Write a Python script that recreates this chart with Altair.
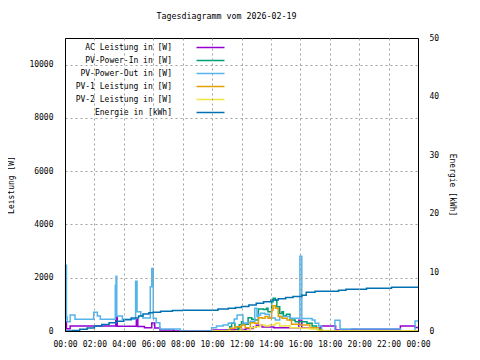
import altair as alt
import pandas as pd

# ---- data (hours of day, value) ----
series_names = ["AC Leistung in [W]", "PV-Power-In in [W]", "PV-Power-Out in [W]",
                "PV-1 Leistung in [W]", "PV-2 Leistung in [W]", "Energie in [kWh]"]
series_colors = ["#9400d3", "#009e73", "#56b4e9", "#e69f00", "#f0e442", "#0072b2"]

ac_t = [0, 0.1, 0.35, 3.45, 3.55, 4.85, 4.95, 5.4, 5.9, 6.1, 6.45, 7.4, 10.0, 11.5, 12.3,
        12.8, 13.0, 13.4, 14.2, 15.9, 16.1, 17.4, 18.4, 19.5, 22.8, 23.8, 24]
ac_v = [350, 80, 190, 520, 175, 420, 170, 120, 300, 110, 40, 0, 40, 60, 90,
        150, 220, 150, 120, 400, 110, 190, 40, 70, 190, 135, 135]

pvin_t = [10.0, 11.0, 11.2, 11.33, 11.55, 11.75, 11.85, 12.0, 12.1, 12.45, 12.7, 12.9, 13.15,
          13.5, 13.7, 13.8, 14.05, 14.15, 14.3, 14.4, 14.6, 14.75, 14.85, 15.05, 15.3, 15.65,
          16.0, 16.45, 16.8, 17.1, 17.35, 24]
pvin_v = [0, 40, 160, 290, 160, 40, 230, 350, 250, 500, 440, 410, 825,
          810, 850, 720, 1100, 1225, 1160, 910, 660, 720, 560, 625, 410, 350,
          350, 290, 190, 75, 0, 0]

pvout_t = [0, 0.04, 0.1, 0.15, 0.35, 0.68, 1.95, 2.2, 2.4, 3.42, 3.47, 3.52, 3.9, 4.8, 4.9,
           5.15, 5.3, 5.8, 5.9, 6.0, 6.2, 6.45, 7.85, 9.97, 10.3, 10.75, 11.1, 11.2, 11.5,
           11.7, 12.1, 12.6, 12.9, 13.05, 13.15, 13.3, 13.6, 13.9, 14.3, 14.6, 15.3, 15.97,
           16.1, 16.8, 17.0, 17.25, 17.45, 18.35, 18.7, 22.8, 23.8, 24]
pvout_v = [440, 2470, 530, 350, 600, 440, 700, 560, 440, 1720, 2060, 560, 440, 1870, 720,
           560, 490, 1660, 2350, 475, 310, 75, 0, 125, 190, 225, 290, 300, 450,
           600, 300, 370, 850, 540, 600, 670, 630, 490, 410, 540, 475, 2810,
           470, 410, 290, 190, 0, 400, 75, 0, 375, 375]

pv1_t = [10.0, 11.1, 11.2, 11.55, 11.9, 12.0, 12.25, 12.6, 12.9, 13.15, 13.4, 13.6, 13.8,
         14.05, 14.15, 14.3, 14.5, 14.75, 15.1, 15.4, 16.0, 16.65, 17.2, 17.5, 24]
pv1_v = [0, 30, 100, 160, 125, 225, 125, 310, 290, 500, 475, 540, 475,
         790, 950, 850, 540, 475, 410, 250, 225, 125, 40, 0, 0]

pv2_t = [10.0, 11.9, 12.1, 12.6, 12.9, 13.25, 13.6, 13.9, 14.3, 14.6, 14.95, 15.3, 16.0,
         16.65, 17.2, 24]
pv2_v = [0, 40, 0, 125, 160, 225, 190, 225, 290, 190, 200, 125, 100,
         75, 0, 0]

energy_t = [0, 0.5, 1, 1.5, 2, 2.5, 3, 3.5, 4, 4.5, 5, 5.3, 5.7, 6, 6.5, 7.3, 8, 10.4,
            11.1, 11.6, 12, 12.5, 13, 13.5, 14, 14.5, 15, 15.5, 16.1, 16.4, 17, 18.6,
            19.1, 20.5, 22.2, 24]
energy_v = [0, 0.1, 0.3, 0.5, 0.85, 1.1, 1.4, 1.65, 1.9, 2.2, 2.55, 2.9, 3.1, 3.2, 3.35,
            3.5, 3.55, 3.75, 3.9, 4.0, 4.2, 4.45, 4.75, 5.0, 5.3, 5.5, 5.7, 5.9, 6.1,
            6.6, 6.8, 6.97, 7.14, 7.3, 7.45, 7.45]

x_ticks = list(range(0, 25, 2))
left_ticks = [0, 2000, 4000, 6000, 8000, 10000]
right_ticks = [0, 10, 20, 30, 40, 50]

rows = []
for name, ts, vs in zip(series_names,
                        [ac_t, pvin_t, pvout_t, pv1_t, pv2_t, energy_t],
                        [ac_v, pvin_v, pvout_v, pv1_v, pv2_v, energy_v]):
    for t, v in zip(ts, vs):
        rows.append({"series": name, "t": t, "v": v})
df = pd.DataFrame(rows)

FONT = "DejaVu Sans Mono"
grid_style = dict(grid=True, gridDash=[2, 3], gridColor="#a0a0a0", gridWidth=1)

legend = alt.Legend(title=None, orient="none", legendX=140, legendY=4,
                    symbolType="M-3,0H3", symbolSize=87, symbolStrokeWidth=1.5,
                    symbolFillColor="transparent",
                    labelAlign="right", labelOffset={"expr": "-44"}, labelFont=FONT,
                    labelFontSize=8, labelColor="black", rowPadding=3,
                    padding=0, labelLimit=300)

color = alt.Color("series:N", scale=alt.Scale(domain=series_names, range=series_colors),
                  legend=legend)

x_enc = alt.X("t:Q", scale=alt.Scale(domain=[0, 24], nice=False),
              axis=alt.Axis(values=x_ticks, title=None, ticks=False,
                            labelExpr="(datum.value % 24 < 10 ? '0' : '') + (datum.value % 24) + ':00'",
                            labelFont=FONT, labelFontSize=8, labelColor="black",
                            labelPadding=9, domainColor="black", zindex=1,
                            labelFlush=False, labelOverlap=False, **grid_style))

base = alt.Chart(df)

left = base.transform_filter(alt.datum.series != "Energie in [kWh]").mark_line(
    interpolate="step-after", strokeWidth=1.5).encode(
    x=x_enc,
    y=alt.Y("v:Q", scale=alt.Scale(domain=[0, 11000], nice=False),
            axis=alt.Axis(values=left_ticks, title="Leistung [W]", ticks=False, format="d",
                          labelFont=FONT, labelFontSize=8, labelColor="black",
                          labelPadding=12, titleFont=FONT, titleFontSize=8,
                          titleFontWeight="normal", titleColor="black", titlePadding=13,
                          domainColor="black", zindex=1, **grid_style)),
    color=color,
)

right = base.transform_filter(alt.datum.series == "Energie in [kWh]").mark_line(
    interpolate="step-after", strokeWidth=1.5).encode(
    x=x_enc,
    y=alt.Y("v:Q", scale=alt.Scale(domain=[0, 50], nice=False),
            axis=alt.Axis(values=right_ticks, title="Energie [kWh]", orient="right",
                          ticks=False, grid=False, format="d",
                          labelFont=FONT, labelFontSize=8, labelColor="black",
                          labelPadding=11, titleFont=FONT, titleFontSize=8,
                          titleFontWeight="normal", titleColor="black", titlePadding=9,
                          domainColor="black", zindex=1)),
    color=color,
)

chart = alt.layer(left, right).resolve_scale(y="independent").properties(
    width=353, height=293,
    title=alt.TitleParams("Tagesdiagramm vom 2026-02-19", font=FONT, fontSize=8.3,
                          fontWeight="normal", color="black", anchor="middle",
                          dx=-15, offset=14),
    autosize=alt.AutoSizeParams(type="none"),
    padding={"left": 57, "top": 30, "right": 54, "bottom": 20},
    background="white",
).configure_view(stroke="black", strokeWidth=1)

chart.save("out.html", embed_options={"renderer": "svg", "actions": False})
